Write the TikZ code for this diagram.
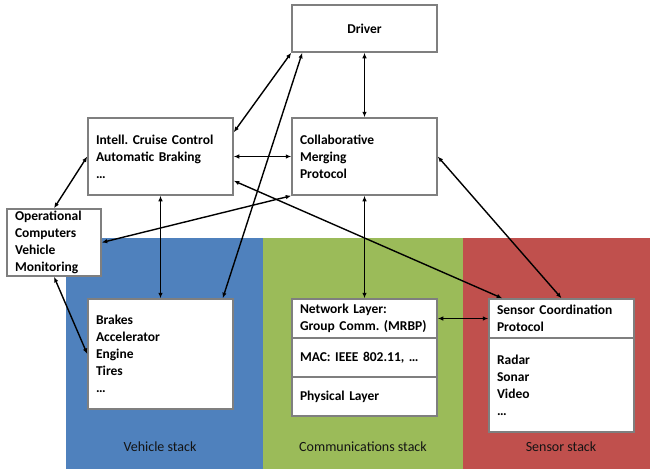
\documentclass[tikz,border=0pt]{standalone}
\usepackage{fontspec}
\setmainfont{Carlito}
\frenchspacing
\usetikzlibrary{arrows.meta}
\definecolor{vblue}{HTML}{4F81BD}
\definecolor{cgreen}{HTML}{9BBB59}
\definecolor{sred}{HTML}{C0504D}
\definecolor{boxgray}{HTML}{7F7F7F}
\definecolor{labtext}{HTML}{141414}
\tikzset{
  box/.style={draw=boxgray, line width=1.5pt, fill=white, inner xsep=8pt, inner ysep=0pt,
    minimum width=145pt, text width=129pt, align=left,
    font=\fontsize{13.5}{17}\selectfont\bfseries},
  link/.style={line width=1.4pt, draw=black, {Latex[length=5.5pt,width=4.5pt]}-{Latex[length=5.5pt,width=4.5pt]}},
  stacklabel/.style={font=\fontsize{14}{17}\selectfont, text=labtext}
}
\begin{document}
\begin{tikzpicture}[x=1pt,y=-1pt]
\useasboundingbox (0,0) rectangle (650,469);
% backgrounds
\fill[vblue] (66,238) rectangle (263,469);
\fill[cgreen] (263,238) rectangle (463,469);
\fill[sred] (463,238) rectangle (650,469);
\node[stacklabel] (lveh) at (160,447) {Vehicle stack};
\node[stacklabel] (lcom) at (363,447) {Communications stack};
\node[stacklabel] (lsen) at (561,447) {Sensor stack};
% boxes
\node[box, minimum height=47pt, align=center] (driver) at (364.5,28.5) {Driver};
\node[box, minimum height=77pt] (icc) at (160.5,156.5) {Intell. Cruise Control\\Automatic Braking\\\dots};
\node[box, minimum height=77pt] (cmp) at (364.5,156.5) {Collaborative\\Merging\\Protocol};
\node[box, minimum height=67pt, minimum width=94pt, text width=78pt] (opc) at (54,242.5) {Operational\\Computers\\Vehicle\\Monitoring};
\node[box, minimum height=110pt] (brakes) at (160.5,354) {Brakes\\Accelerator\\Engine\\Tires\\\dots};
\node[box, minimum height=39pt] (net1) at (364.5,318.5) {Network Layer:\\Group Comm. (MRBP)};
\node[box, minimum height=39pt] (net2) at (364.5,357.5) {MAC: IEEE 802.11, \dots};
\node[box, minimum height=39pt] (net3) at (364.5,396.5) {Physical Layer};
\node[box, minimum height=39pt] (sens1) at (561.5,318.5) {Sensor Coordination\\Protocol};
\node[box, minimum height=94pt] (sens2) at (561.5,385) {Radar\\Sonar\\Video\\\dots};
% connectors
\draw[link] (driver.south west) -- ([yshift=-15pt]icc.north east);
\draw[link] ([xshift=-11pt]brakes.north east) -- ([xshift=11pt]driver.south west);
\draw[link] (driver.south) -- (cmp.north);
\draw[link] (icc.east) -- (cmp.west);
\draw[link] (icc.south) -- (brakes.north);
\draw[link] (opc.north) -- (icc.west);
\draw[link] (opc.east) -- (cmp.south west);
\draw[link] ([yshift=15pt]icc.south east) -- ([xshift=14pt]sens1.north west);
\draw[link] (cmp.east) -- (sens1.north);
\draw[link] (opc.south) -- (brakes.west);
\draw[link] (cmp.south) -- (net1.north);
\draw[link] (net1.east) -- (sens1.west);
\end{tikzpicture}
\end{document}
